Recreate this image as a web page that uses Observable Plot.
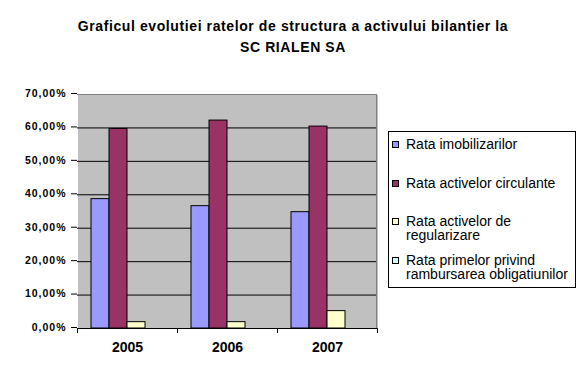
<!DOCTYPE html>
<html><head><meta charset="utf-8">
<script src="https://cdn.jsdelivr.net/npm/d3@7"></script>
<script src="https://cdn.jsdelivr.net/npm/@observablehq/plot@0.6"></script>
<style>
body{margin:0;background:#fff;}
#wrap{position:relative;width:585px;height:375px;overflow:hidden;font-family:Arial,"Liberation Sans",sans-serif;background:#fff;}
#title{position:absolute;left:0;top:16px;width:586px;text-align:center;font-weight:bold;font-size:14px;line-height:21px;letter-spacing:0.6px;color:#000;}
#chart{position:absolute;left:0;top:0;}
#legend{position:absolute;left:388px;top:131px;width:188px;height:157px;box-sizing:border-box;border:1px solid #000;background:#fff;font-size:14px;color:#000;}
.item{position:absolute;left:17px;width:168px;line-height:14px;}
.sw{position:absolute;left:-14px;top:4px;width:5px;height:5px;border:1px solid #000;}
</style>
</head><body>
<div id="wrap">
  <div id="chart"></div>
  <div id="title"></div>
  <div id="legend"></div>
</div>
<script>
const titleLines = ["Graficul evolutiei ratelor de structura a activului bilantier la", "SC RIALEN SA"];
const years = ["2005", "2006", "2007"];
const series = ["Rata imobilizarilor", "Rata activelor circulante", "Rata activelor de regularizare", "Rata primelor privind rambursarea obligatiunilor"];
const colors = ["#9999FF", "#993366", "#FFFFCC", "#CCFFFF"];
const rataImobilizarilor = [38.7, 36.6, 34.8];
const rataActivelorCirculante = [59.7, 62.2, 60.4];
const rataActivelorRegularizare = [1.9, 1.9, 5.2];
const rataPrimelorRambursare = [0, 0, 0];
const yTicks = [0, 10, 20, 30, 40, 50, 60, 70];

const seriesValues = [rataImobilizarilor, rataActivelorCirculante, rataActivelorRegularizare, rataPrimelorRambursare];
const data = [];
years.forEach((yr, i) => series.forEach((s, j) => data.push({year: yr, series: s, value: seriesValues[j][i]})));

const fmt = d => d.toFixed(2).replace(".", ",") + "%";

const plot = Plot.plot({
  width: 585, height: 375,
  marginTop: 94, marginBottom: 47, marginLeft: 76, marginRight: 207,
  style: {fontFamily: "Arial, 'Liberation Sans', sans-serif", background: "transparent", color: "#000", overflow: "visible"},
  fx: {domain: years, padding: 0, label: null},
  x: {domain: series, paddingInner: 0, paddingOuter: 0.75, axis: null},
  y: {domain: [0, 70], label: null},
  color: {domain: series, range: colors},
  marks: [
    Plot.frame({fill: "#C0C0C0", stroke: "none", shapeRendering: "crispEdges"}),
    Plot.ruleY(yTicks.filter(t => t > 0 && t < 70), {stroke: "#000", strokeOpacity: 1}),
    Plot.ruleY([70], {stroke: "#808080", strokeOpacity: 1}),
    Plot.barY(data, {fx: "year", x: "series", y: "value", fill: "series", stroke: "#000", strokeWidth: 1}),
    Plot.ruleY([0], {stroke: "#000"}),
    Plot.axisY({ticks: yTicks, tickFormat: fmt, tickSize: 6, tickPadding: 5, fontSize: 10.5, fontWeight: "bold", line: true, stroke: "#000", dy: -1}),
    Plot.axisFx({anchor: "bottom", tickSize: 0, tickPadding: 14, fontSize: 14, fontWeight: "bold", label: null})
  ]
});
document.getElementById("chart").appendChild(plot);

const svg = d3.select(plot);
svg.selectAll('[aria-label="y-axis tick label"] text').attr("letter-spacing", "1px");

// category boundary ticks and right plot border, positioned by Plot's scales
const fxs = plot.scale("fx"), ys = plot.scale("y");
const y0 = ys.apply(0), yTop = ys.apply(70);
const edges = years.map(v => fxs.apply(v)).concat([fxs.apply(years[years.length - 1]) + fxs.bandwidth]);
svg.append("g").selectAll("line").data(edges).join("line")
  .attr("x1", d => Math.round(d) + 0.5).attr("x2", d => Math.round(d) + 0.5)
  .attr("y1", y0).attr("y2", y0 + 5).attr("stroke", "#000");
svg.append("line")
  .attr("x1", Math.round(edges[edges.length - 1]) - 0.5).attr("x2", Math.round(edges[edges.length - 1]) - 0.5)
  .attr("y1", yTop).attr("y2", y0).attr("stroke", "#808080");

// title
document.getElementById("title").innerHTML = titleLines.map(t => `<div>${t}</div>`).join("");

// legend
const legendTops = [5, 44, 82, 121];
const leg = document.getElementById("legend");
series.forEach((s, i) => {
  const it = document.createElement("div");
  it.className = "item";
  it.style.top = legendTops[i] + "px";
  it.innerHTML = `<span class="sw" style="background:${colors[i]}"></span>${s}`;
  leg.appendChild(it);
});
</script>
</body></html>
